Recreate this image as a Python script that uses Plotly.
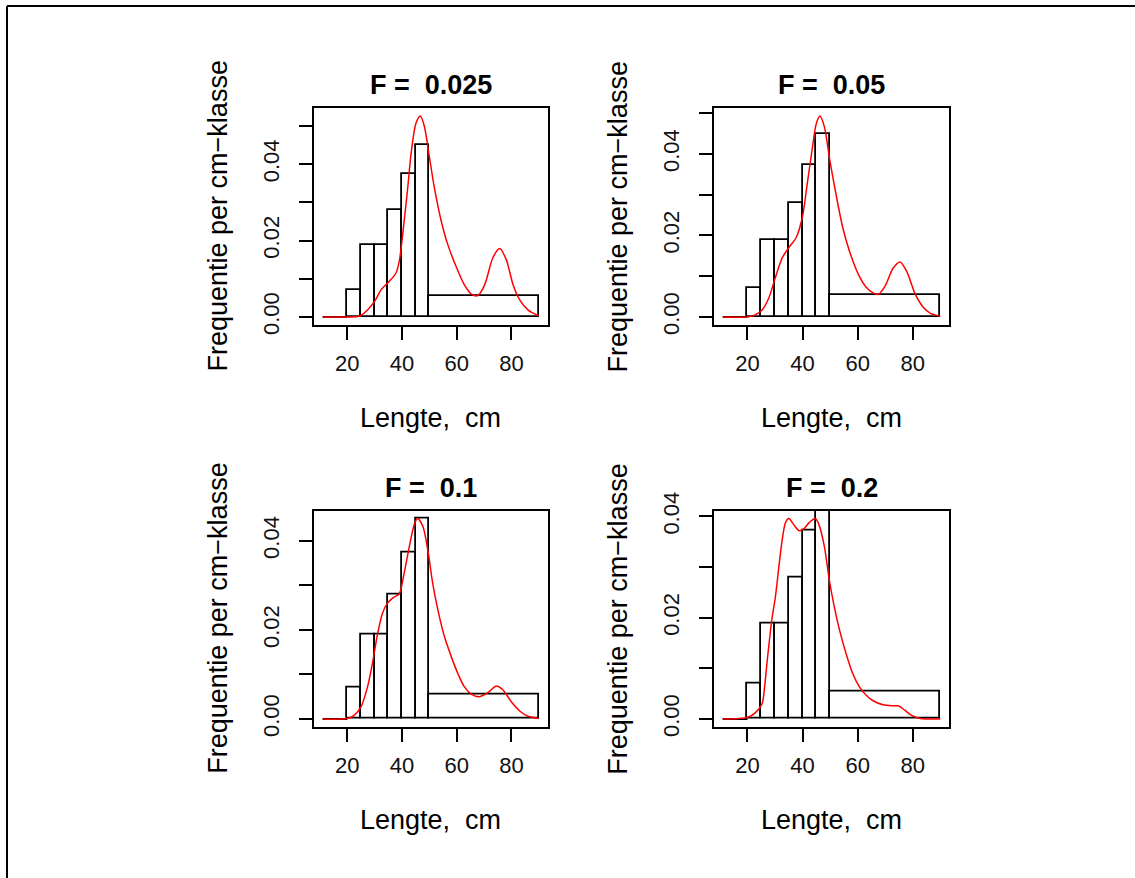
import plotly.graph_objects as go

W, H = 1135, 878

# Length classes (cm) and observed frequency per cm-class
bin_edges = [11, 20, 25, 30, 35, 40, 45, 50, 90]
bin_density = [0.0, 0.0070, 0.0189, 0.0189, 0.0279, 0.0373, 0.0449, 0.0054]

# Fishing mortality levels shown in the four panels
f_labels = ["0.025", "0.05", "0.1", "0.2"]

# Modelled length distributions (per cm) for each F
curve_x_f025 = [11, 20, 23.7, 25.0, 27.4, 30.1, 32.3, 35.3, 37.8, 39.0, 40.8, 42.1, 43.3, 45.1, 46.7,
                48.2, 50.0, 51.8, 54.3, 56.7, 60.0, 62.8, 65.3, 67.7, 70.2, 73.2, 75.7, 78.1, 80.6,
                83.0, 86.1, 90]
curve_y_f025 = [0, 0, 0.0001, 0.0004, 0.0018, 0.0042, 0.0071, 0.0093, 0.0115, 0.0146, 0.0252, 0.0339,
                0.0427, 0.0507, 0.0526, 0.0498, 0.0419, 0.0339, 0.0252, 0.0190, 0.0128, 0.0084,
                0.0060, 0.0056, 0.0084, 0.0155, 0.0179, 0.0150, 0.0084, 0.0045, 0.0018, 0.0003]

curve_x_f05 = [11, 20, 22.8, 25.3, 27.7, 30.1, 32.6, 35.0, 37.7, 39.9, 41.7, 43.6, 45.0, 46.3, 47.9,
               49.9, 52.1, 54.6, 57.0, 60.3, 63.1, 65.6, 67.4, 69.9, 72.9, 75.4, 77.8, 80.9, 83.9,
               86.4, 90]
curve_y_f05 = [0, 0, 0.0005, 0.0017, 0.0046, 0.0096, 0.0145, 0.0170, 0.0195, 0.0244, 0.0327, 0.0417,
               0.0475, 0.0493, 0.0467, 0.0384, 0.0302, 0.0219, 0.0162, 0.0104, 0.0073, 0.0059,
               0.0055, 0.0075, 0.0120, 0.0135, 0.0112, 0.0056, 0.0023, 0.0009, 0.0002]

curve_x_f1 = [11, 20, 22.5, 25.0, 27.4, 29.2, 31.1, 32.9, 34.7, 37.2, 39.0, 40.8, 42.7, 44.5, 45.7,
              47.6, 49.4, 51.2, 53.1, 55.5, 58.0, 60.4, 62.8, 65.3, 68.3, 71.4, 74.5, 76.9, 80.0,
              83.0, 86.1, 90]
curve_y_f1 = [0, 0.0001, 0.0008, 0.0027, 0.0072, 0.0125, 0.0192, 0.0238, 0.0260, 0.0274, 0.0281,
              0.0328, 0.0388, 0.0437, 0.0450, 0.0433, 0.0380, 0.0305, 0.0245, 0.0185, 0.0140,
              0.0102, 0.0072, 0.0056, 0.0050, 0.0059, 0.0074, 0.0065, 0.0038, 0.0018, 0.0006,
              0.0001]

curve_x_f2 = [11, 16.7, 20, 22.8, 25.3, 26.2, 27.1, 28.9, 30.1, 31.4, 32.6, 33.8, 35.0, 36.9, 38.7,
              40.5, 42.4, 44.6, 46.0, 47.9, 49.7, 51.5, 53.4, 55.8, 58.2, 60.7, 63.1, 65.6, 69.2,
              72.3, 74.7, 77.2, 79.6, 82.7, 90]
curve_y_f2 = [0, 0.0001, 0.0003, 0.0012, 0.0030, 0.0063, 0.0112, 0.0199, 0.0240, 0.0301, 0.0354,
              0.0388, 0.0396, 0.0383, 0.0372, 0.0376, 0.0388, 0.0396, 0.0383, 0.0341, 0.0275,
              0.0222, 0.0176, 0.0129, 0.0090, 0.0063, 0.0047, 0.0036, 0.0028, 0.0026, 0.0026,
              0.0017, 0.0007, 0.0001, 0.0]

curves = [(curve_x_f025, curve_y_f025), (curve_x_f05, curve_y_f05),
          (curve_x_f1, curve_y_f1), (curve_x_f2, curve_y_f2)]

x_ticks = [20, 40, 60, 80]

# plot-region boxes in pixels: left, right, top, bottom
boxes = [(314, 547.5, 108, 325), (714, 949, 108, 325),
         (314, 547.5, 510.5, 727), (714, 949, 510.5, 727)]

FONT = "Liberation Sans, Arial, sans-serif"
LW = 1.8

fig = go.Figure()

x_lo, x_hi = bin_edges[0], bin_edges[-1]
x_pad = 0.04 * (x_hi - x_lo)

mids = [(a + b) / 2 for a, b in zip(bin_edges[1:-1], bin_edges[2:])]
widths = [b - a for a, b in zip(bin_edges[1:-1], bin_edges[2:])]

for i, (cx, cy) in enumerate(curves):
    n = "" if i == 0 else str(i + 1)
    xa, ya = "x" + n, "y" + n
    # empty first class drawn as a flat segment at zero
    fig.add_trace(go.Scatter(x=bin_edges[0:2], y=[bin_density[0]] * 2, mode="lines",
                             line=dict(color="black", width=LW), xaxis=xa, yaxis=ya,
                             showlegend=False, hoverinfo="skip"))
    fig.add_trace(go.Bar(x=mids, y=bin_density[1:], width=widths, xaxis=xa, yaxis=ya,
                         marker=dict(color="rgba(255,255,255,0)",
                                     line=dict(color="black", width=LW)),
                         showlegend=False))
    fig.add_trace(go.Scatter(x=cx, y=cy, mode="lines", xaxis=xa, yaxis=ya,
                             line=dict(color="#ff0000", width=1.5, shape="spline", smoothing=0.8),
                             showlegend=False))

    left, right, top, bottom = boxes[i]
    ymax = max(cy)
    n_ticks = int(ymax * 1.04 / 0.01 + 1e-9) + 1
    yvals = [k * 0.01 for k in range(n_ticks)]
    ytext = [f"{v:.2f}" if k % 2 == 0 else "" for k, v in enumerate(yvals)]

    axis_common = dict(showline=True, mirror=True, linecolor="black", linewidth=LW,
                       ticks="outside", ticklen=13, tickwidth=LW, tickcolor="black",
                       showgrid=False, zeroline=False, fixedrange=True, automargin=False,
                       tickfont=dict(family=FONT, size=22, color="#111111"))
    fig.update_layout(**{
        ("xaxis" + n): dict(axis_common, domain=[left / W, right / W], anchor=ya,
                            range=[x_lo - x_pad, x_hi + x_pad], tickvals=x_ticks,
                            ticklabelstandoff=5),
        ("yaxis" + n): dict(axis_common, domain=[1 - bottom / H, 1 - top / H], anchor=xa,
                            range=[-0.04 * ymax, 1.04 * ymax], tickvals=yvals,
                            ticktext=ytext, tickangle=-90, ticklabelstandoff=11),
    })

    cxp = (left + right) / 2 / W
    fig.add_annotation(text="<b>F = \u00a0" + f_labels[i] + "</b>", x=cxp, y=1 - (top - 23) / H,
                       xref="paper", yref="paper", showarrow=False,
                       font=dict(family=FONT, size=27, color="black"),
                       xanchor="center", yanchor="middle")
    fig.add_annotation(text="Lengte,\u00a0 cm", x=cxp, y=1 - (bottom + 93) / H,
                       xref="paper", yref="paper", showarrow=False,
                       font=dict(family=FONT, size=27, color="black"),
                       xanchor="center", yanchor="middle")
    fig.add_annotation(text="Frequentie per cm\u2212klasse", x=(left - 96) / W,
                       y=1 - (top + bottom) / 2 / H, xref="paper", yref="paper",
                       showarrow=False, textangle=-90,
                       font=dict(family=FONT, size=27, color="black"),
                       xanchor="center", yanchor="middle")

# page frame
fig.add_shape(type="line", xref="paper", yref="paper", x0=7 / W, x1=1, y0=1 - 6 / H, y1=1 - 6 / H,
              line=dict(color="black", width=2))
fig.add_shape(type="line", xref="paper", yref="paper", x0=7 / W, x1=7 / W, y0=0, y1=1 - 6 / H,
              line=dict(color="black", width=2))

fig.update_layout(width=W, height=H, margin=dict(l=0, r=0, t=0, b=0, autoexpand=False),
                  paper_bgcolor="white", plot_bgcolor="white", bargap=0, showlegend=False)

fig.write_html("out.html")
